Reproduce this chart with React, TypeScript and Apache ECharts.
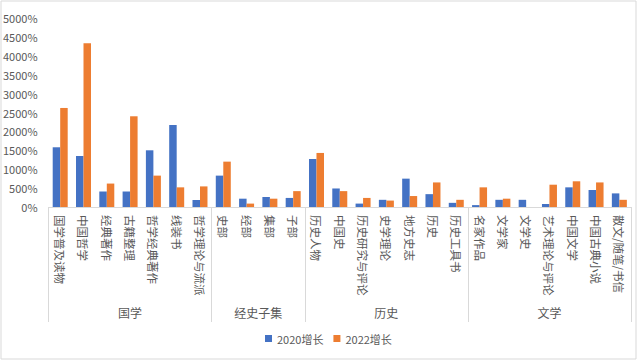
import React, { useEffect, useRef } from "react";
import * as echarts from "echarts";

const categories = [
  "国学普及读物", "中国哲学", "经典著作", "古籍整理", "哲学经典著作", "线装书", "哲学理论与流派",
  "史部", "经部", "集部", "子部",
  "历史人物", "中国史", "历史研究与评论", "史学理论", "地方史志", "历史", "历史工具书",
  "名家作品", "文学家", "文学史", "艺术理论与评论", "中国文学", "中国古典小说", "散文/随笔/书信",
];
const groups = ["国学", "经史子集", "历史", "文学"];
const groupSizes = [7, 4, 7, 7];
const growth2020 = [
  1580, 1350, 410, 410, 1500, 2170, 185,
  830, 220, 265, 240,
  1270, 490, 90, 190, 750, 340, 110,
  50, 190, 190, 80, 520, 450, 360,
];
const growth2022 = [
  2620, 4330, 620, 2400, 830, 520, 545,
  1200, 90, 220, 420,
  1430, 420, 240, 170, 290, 650, 190,
  520, 220, 0, 590, 680, 650, 190,
];
const seriesNames = ["2020增长", "2022增长"];
const yMax = 5000;
const yStep = 500;

export default function App() {
  const ref = useRef<HTMLDivElement>(null);
  useEffect(() => {
    if (!ref.current) return;
    const chart = echarts.init(ref.current, null, { renderer: "svg" });
    const starts: number[] = [];
    const groupCenters: Record<string, string> = {};
    let acc = 0;
    groupSizes.forEach((s, i) => {
      starts.push(acc);
      groupCenters[String(acc + s / 2)] = groups[i];
      acc += s;
    });
    const font = "'Noto Sans CJK SC', 'Microsoft YaHei', sans-serif";
    const grey = "#595959";
    chart.setOption({
      animation: false,
      textStyle: { fontFamily: font },
      graphic: [
        {
          type: "rect",
          shape: { x: 1, y: 1, width: 635, height: 358 },
          style: { fill: "none", stroke: "#d9d9d9", lineWidth: 1 },
          silent: true,
        },
      ],
      grid: { left: 47, right: 7, top: 18, bottom: 155 },
      legend: {
        data: seriesNames,
        bottom: 13,
        left: 260,
        icon: "rect",
        itemWidth: 7,
        itemHeight: 7,
        itemGap: 10,
        textStyle: { fontSize: 11, color: grey, fontFamily: font },
      },
      xAxis: [
        {
          type: "category",
          data: categories,
          axisLine: { lineStyle: { color: "#d9d9d9" } },
          axisTick: {
            show: true,
            interval: (i: number) => starts.includes(i),
            length: 115,
            lineStyle: { color: "#d9d9d9" },
          },
          axisLabel: {
            rotate: -90,
            interval: 0,
            fontSize: 11.5,
            color: grey,
            margin: 8,
            fontFamily: font,
          },
        },
        {
          type: "value",
          position: "bottom",
          min: 0,
          max: categories.length,
          interval: 0.5,
          offset: 95,
          axisLine: { show: false },
          axisTick: { show: false },
          splitLine: { show: false },
          axisLabel: {
            show: true,
            margin: 4,
            fontSize: 12,
            color: grey,
            fontFamily: font,
            showMinLabel: true,
            showMaxLabel: true,
            formatter: (v: number) => groupCenters[String(v)] || "",
          },
        },
      ],
      yAxis: {
        type: "value",
        min: 0,
        max: yMax,
        interval: yStep,
        axisLine: { show: false },
        axisTick: { show: false },
        splitLine: { show: false },
        axisLabel: {
          formatter: (v: number) => `${v}%`,
          fontSize: 11,
          color: grey,
          margin: 11,
          fontFamily: font,
        },
      },
      series: [
        {
          name: seriesNames[0],
          type: "bar",
          data: growth2020,
          barWidth: 7.5,
          barGap: "0%",
          itemStyle: { color: "#4472C4" },
        },
        {
          name: seriesNames[1],
          type: "bar",
          data: growth2022,
          barWidth: 7.5,
          barGap: "0%",
          itemStyle: { color: "#ED7D31" },
        },
      ],
    });
    return () => chart.dispose();
  }, []);
  return (
    <div
      ref={ref}
      style={{ position: "fixed", left: 0, top: 0, width: 638, height: 362, background: "#fff" }}
    />
  );
}
